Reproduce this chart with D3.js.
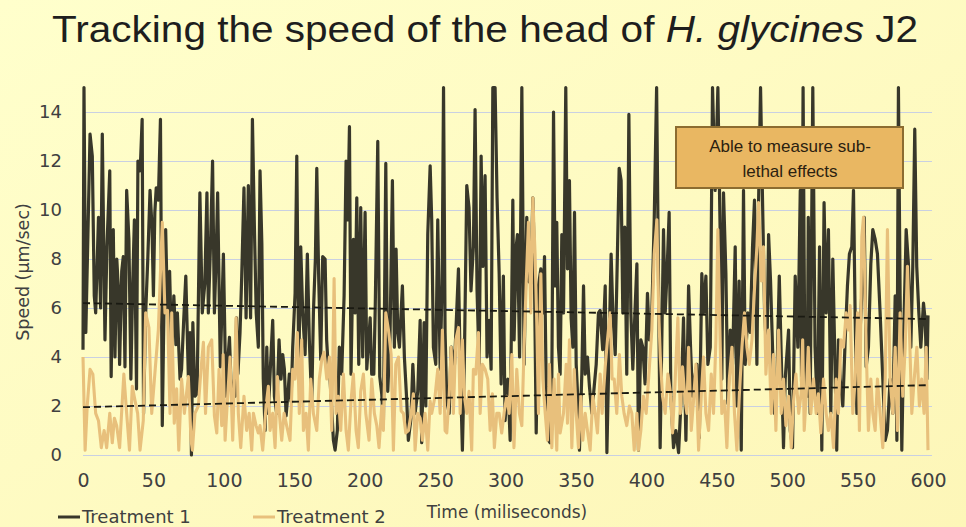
<!DOCTYPE html>
<html>
<head>
<meta charset="utf-8">
<script src="https://cdn.jsdelivr.net/npm/d3@7"></script>
<style>
    html, body { margin: 0; padding: 0; }
    body { width: 966px; height: 527px; overflow: hidden; }
</style>
</head>
<body>
<div id="chart"></div>
<script>
// Treatment 1: [time (ms), speed (um/sec)]
var treatment1 = [
    [0,4.3],[0.7,15],[2,5],[3.5,9],[5,13.1],[6.6,12.2],[8,6.5],[9,5.8],[11,9.7],[12.5,6],[13.7,13.1],[15.6,4.7],
    [17,8.5],[19,11.6],[20,3.2],[21.5,9.2],[22.7,4],[24,8],[25,6.9],[26,3.7],[27.5,7.5],[28.6,8.1],[29.8,3.6],
    [31,10.8],[32.6,8.8],[34,3.1],[35.3,7],[36.5,9.6],[38,2.7],[39,12],[40.6,11.6],[42,13.7],[43,1.7],[44.5,5.8],
    [46,8],[47.6,10.8],[49,9.3],[50,6.5],[51,9.9],[52,10.9],[53.5,10.4],[55,13.7],[56.3,1.2],[57.5,6],[58.7,9.2],
    [60,5.8],[61.5,7.5],[63,4],[64.5,6.5],[66,4.5],[67,5.8],[68.9,3.1],[70,3.5],[71.5,5.5],[73,7.3],[74.8,3.2],
    [76,5],[77,0],[78,5.4],[79.5,2.4],[81,2.5],[83,10.7],[84.7,5.8],[86.5,7],[88,10.7],[89,5.8],[90.5,8.5],[92,12],
    [93.3,5.8],[94.5,8],[95.6,10.7],[97.5,3.6],[99.7,8.2],
    [101.5,2.4],[103,4],[104,4.8],[105,3.1],[106.5,2.5],[108,2.4],[109,5.6],[110,3.3],[111.5,5],[112.7,7.3],
    [114.3,10.9],[115.8,5.6],[117.4,11],[119,5.6],[120.3,13.7],[121.7,9.3],[123,5.8],[124.5,4.4],[125.7,11.6],
    [127,8.6],[128,3.1],[129.3,1],[130.5,4.4],[131.6,1.7],[133,3.5],[134.7,5.5],[135.9,2.4],[137.5,1.7],[139.2,4.7],
    [140.6,3.1],[141.8,4.1],[143,3.5],[144.2,1.6],[145.4,2.4],[146.5,3.3],[147.7,2.2],[148.9,4.4],[150.6,6.6],
    [151.8,12.2],[153.2,3.5],[154.6,8.5],[156,5.8],[157.7,4.1],[159.3,8.2],[160.7,4.7],[162.4,2.1],[163.6,5.8],
    [165,8],[166,11.7],[167.4,7.1],[168.8,3.9],[170.2,8.1],[171.9,8],[173,4.7],[174.2,3.5],[175.4,3.1],[176.5,2],
    [177.8,0.6],[179,0.2],[180.6,1],[182,4.4],[183.7,3.3],[185.4,6.5],[186.8,12],[188,9.6],[189.2,13.4],[190.3,3.3],
    [192,8.8],[193.2,5.8],[194.4,10.5],[195.8,3.7],[197.2,10.1],[198.6,4],[200.3,9.9],
    [201.5,3.5],[203.9,5.6],[205,3.3],[206.5,3.3],[207.5,6],[209.3,12.8],[210.7,3.2],[212.1,2.5],[213.3,1.2],
    [215,11.9],[216.4,2.6],[218,4.8],[219.7,11.2],[221.1,4.4],[222.3,8.4],[223.5,5],[224.7,4.4],[226.8,6.9],
    [228.2,4],[229.9,2.2],[231,0.6],[232.9,1.5],[234.2,3.7],[235.8,1.7],[237.7,2.6],[239.4,5.5],[240.5,0.5],
    [242.2,5.4],[243.4,2],[244.8,9],[246.5,11.8],[247.6,9.6],[248.8,4.4],[250.5,3.7],[251.9,9.6],[253.6,3.5],
    [255,7],[256,15],[257.1,5],[258.3,2.2],[260,1.7],[261.4,4.4],[263.8,3.7],[266.6,7.6],[267.8,3.7],[269.4,0.2],
    [270.8,3.9],[272.5,11],[274.1,10.1],[275.5,6.7],[277.2,8.5],[278.4,14.1],[279.8,6.7],[281.3,3.6],[282.7,12.2],
    [283.9,7.7],[285.5,11.4],[286.9,4],[288.4,5.5],[289.8,3.5],[291,15],[292.6,15],[294,10.5],[295.5,7.4],
    [296.9,2.9],[298.5,7.3],[299.7,1.4],
    [301.6,3.1],[303.3,0.6],[305.2,10.4],[306.1,4.7],[307.6,8.5],[308.5,9],[310,4],[311.6,15],[313.2,3.7],
    [315.1,9.7],[316.3,7.1],[318,7],[319.4,10.5],[320.3,8.5],[321.8,0.9],[323.4,6.9],[325.1,7.6],[326.5,5.8],
    [327.7,8.1],[328.9,2.8],[330.5,0.6],[331.7,0.5],[332.9,3.1],[334.1,14],[335.3,6.9],[336.4,9.5],[337.6,4.4],
    [338.8,3.3],[340,9],[341.2,5.8],[342.8,15],[344,7.6],[345.4,11.2],[346.6,5.6],[347.8,4.4],[349,9.9],[350.2,3.7],
    [351.4,2.2],[352.5,0.2],[354.2,3.3],[355.4,6.9],[356.6,3.3],[358.2,4],[359.6,2.8],[361.3,1.7],[363,2.8],
    [364.4,3.7],[366,5.8],[367.2,5.9],[369,4.3],[370.8,6.9],[372,0.1],[373.4,4],[375,8.2],[376.2,5.8],[377.9,4.1],
    [379,6.9],[380.7,11.7],[382.1,11.2],[383.3,5.8],[384.7,9.3],[386.1,3.3],[387.6,13.9],[389,5.8],[390.4,3.5],
    [391.9,5.8],[393.3,7.8],[394.4,0.2],[396.1,4.7],[397.5,4.4],[399.1,2.9],
    [400.8,6.6],[402.2,4.7],[403.9,5.8],[405.6,9.6],[407.3,15],[408.5,8],[409.8,0.3],[412.2,9.2],[413.4,5.8],
    [414.6,7.3],[416.2,9.9],[417.4,2.4],[419.3,0.3],[421,1],[422.9,0.1],[424.8,2.4],[426.4,5.6],[428.1,0.6],
    [430,6.9],[431.4,4.4],[432.8,2.4],[434.2,3.1],[435.9,3.7],[437.6,0.7],[439.4,7.4],[440.6,5.8],[442.3,7.3],
    [443.7,3.7],[445.4,4.4],[447,15],[448.9,10.8],[450.8,15],[452.5,8.8],[453.6,3.1],[454.8,10.7],[456.5,7.4],
    [457.9,2.1],[459.6,5.1],[461.2,3.7],[463.1,8.5],[464.3,2],[465.9,7.1],[467.4,0.2],[469,10.8],[470.2,3.7],
    [472.1,5.8],[473.8,5],[475.4,8.5],[476.8,10.4],[478.5,3.7],[479.7,10.3],[481.1,15],[482.5,10.4],[484,5.8],
    [485.6,4],[486.8,9],[488.2,7.1],[489.6,4.4],[491,1.7],[492.7,3.1],[494.4,7.3],[495.8,4],[497.4,0.3],[498.6,3.1],
    [501,5.1],[502.2,1],[503.8,0.3],[505.7,7.3],[507.6,4.4],[509.3,10.8],[510.2,3],[511.3,15],[512.5,4],[514.2,2.4],
    [515,9.7],[516.3,1.7],[518.2,15],[519.8,4.4],[521.5,1.7],[523,8.5],[524.6,0.2],[526.2,10.3],[527.7,5.8],
    [529.3,9.2],[531,1.7],[532.4,8],[533.6,4.7],[535.2,0.2],[536.4,4.7],[537.6,3.1],[539.5,2],[541.2,4.7],
    [542.8,6.9],[544.2,8.2],[545.9,8.5],[547.1,10.8],[548.3,5.5],[549.5,1.7],[551.3,4.4],[553,6.6],[554.7,9.7],
    [556.1,3.6],[557.7,4.4],[559.4,7.8],[560.8,9.2],[562.5,8.8],[564.1,8.2],[566,5.8],[567.9,3.1],[569.6,0.6],
    [571.2,1],[573.1,3.1],[575,1.7],[576.7,6.5],[577.9,0.6],[579,15],[580.2,6.5],[581.4,0.2],[583.1,5.8],
    [584.5,9.2],[586.1,7.8],[587.8,4.4],[589.2,7.7],[590.6,13.3],[592,7.7],[593.5,5.8],[594.9,4.4],[596.8,6.2],
    [598,5.5],[599.2,3.1],[600,5.7]
];

// Treatment 2: [time (ms), speed (um/sec)]
var treatment2 = [
    [0,4],[1.5,0.2],[3,2],[5,3.5],[7,3.3],[9,1.7],[11,1.4],[13,0.3],[15,1],[16.8,0.3],[19,1.7],[20.8,0.5],
    [22.3,1.5],[23.9,1.2],[26,0.3],[29,3.3],[31,1.7],[33,0.2],[35,2.8],[37,2.2],[38.8,1.7],[40.5,0.2],[42.8,1.4],
    [44.5,5.8],[46.8,5.2],[48.8,1.7],[51,3.3],[53.5,5.1],[56.3,9.5],[58.2,5.8],[60,5.9],[61.8,1.7],[63,5.8],
    [64.8,1.3],[66.5,2.7],[68,0.2],[70,3.1],[72,1.7],[74.8,3.2],[76.7,0.6],[77.7,0.2],[79.5,1.7],[81.9,2],
    [83.8,3.5],[85.5,4.6],[87,1.7],[89,4.4],[91.4,4.7],[93.3,1.6],[95,0.9],[96.6,3.5],[98.5,1.2],[99.5,4.1],
    [100.9,0.6],[102,1.7],[104.4,4],[106.3,0.6],[108.7,5.6],[110.3,1.7],[112,0.3],[114.3,2.4],[116.2,1],[118,1.7],
    [119.8,0.2],[121,1.7],[122.9,1.2],[124.5,0.9],[125.7,1.2],[127.6,0.2],[130,2],[131.6,2.8],[132.8,1],[134.7,1.7],
    [136.4,0.3],[138,3.2],[139.4,1.7],[141.1,0.6],[142.8,1.7],[144.6,1.2],[147,0.6],[148.9,3.5],[150.6,3.1],
    [152.2,5],[153.6,1.7],[155.3,4.7],[156.5,1],[158.4,1.7],[160,0.2],[161.7,3.1],[163.6,1.7],[166,1],[167.8,3.1],
    [169.5,3.9],[171.2,4.2],[173.1,3.1],[175,4],[176.6,1],[178.3,7.2],[179.7,1.7],[181.3,2.4],[183,1],[184.9,3.3],
    [186.8,1],[188.4,0.2],[190.3,2.2],[192,3.3],[193.9,1],[195.5,0.3],[197.2,2.6],[199.1,3.3],[200.8,1.7],
    [203.1,0.6],[205,3.1],[206.9,1.7],[208.6,1.2],[210.2,0.3],[212.1,2],[213.3,1],[215,5.8],[216.9,5.1],[218.8,4.1],
    [220.4,0.2],[222.1,3.7],[224,4],[225.9,1.8],[227.5,1.7],[229.2,0.9],[231.1,1],[233,1.7],[234.6,2.5],[235.8,0.2],
    [237.7,1.7],[239.4,1.5],[241,0.6],[242.9,1.7],[244.8,0.2],[246.5,2.2],[247.6,1.7],[250,2.4],[251.9,3.5],
    [253.6,1.7],[255.2,5.1],[257.1,1],[258.3,0.9],[260,2.4],[261.4,4.4],[263,1.7],[264.7,4.7],[266.6,5.2],
    [267.8,1.7],[269.4,4.7],[270.8,2.4],[272.5,1.7],[274.1,2.6],[276,0.2],[277.2,3.5],[278.9,3.3],[280.8,5],
    [282,1.7],[283.6,3.7],[285.5,3.5],[287.4,3.1],[289.1,1],[290.7,2.5],[292.1,0.3],[293.8,1.7],[295.5,1.7],
    [297.3,0.9],[299.2,1.8],
    [300.9,2.4],[302.6,1.7],[304.5,4.1],[306,0.3],[308,3.5],[309.9,1.7],[311.6,1.2],[313.2,4.4],[314.7,7],
    [316.3,9.5],[318,5.8],[319.4,10.5],[321,8.2],[322.2,5.4],[323.4,1.7],[325.1,7.4],[326.5,3.1],[328.2,1.7],
    [329.8,0.6],[331.2,3.7],[332.9,0.3],[334.5,3.1],[336.4,0.2],[337.6,3.3],[338.8,0.9],[341.2,1.7],[343.1,3.7],
    [344,1.3],[345.4,4.7],[347.1,0.3],[348.8,3.5],[350.2,1.7],[351.8,0.3],[353.5,2.4],[354.9,0.6],[356.6,1.7],
    [358.2,1],[360.1,0.2],[362,2.4],[363.7,1.7],[365.3,0.9],[367.2,3.3],[368.6,1.7],[370.8,3.6],[372.4,4.7],
    [374.3,5.8],[375.7,3.1],[377.2,3.1],[379,1.7],[380.9,4.1],[382.6,2.4],[384.2,1.7],[386.1,1.2],[388,2],
    [389.7,1.7],[391.4,0.2],[393.3,1.7],[394.4,0.2],[396.1,1],[397.9,2.4],[399.9,1.7],
    [402.3,3.7],[403.9,5.1],[405.6,8.2],[407.5,9.6],[408.8,5.8],[409.9,4],[411.5,2.4],[413.4,1.7],[415.3,3.3],
    [417,2.6],[418.6,0.9],[420.5,3.1],[422.4,5.6],[424.1,1.7],[425.7,3.6],[427.6,2.2],[428.8,1.7],[430,4.4],
    [431.9,1],[433.5,2.2],[435.2,3.7],[437.1,0.2],[439,2.4],[440.6,4],[442.3,1.7],[444.2,1],[446.1,3.3],[447.7,1.7],
    [449.4,4.7],[450.8,9.2],[452.5,4.4],[453.6,1.7],[455.5,2.2],[457.2,0.3],[458.9,3.1],[460.8,4.4],[462.6,1.7],
    [464.3,0.2],[466,2.4],[467.9,4.4],[469.7,5.8],[471.4,4.4],[473.1,3.7],[475,4.7],[476.9,6.9],[478.5,8.5],
    [479.7,10.3],[481.6,7.1],[483.2,8.5],[484.9,3.3],[486.8,5.1],[488.7,1.7],[490.3,4.1],[492,1],[493.9,5.1],
    [495.8,1.7],[497.4,3.1],[499.1,1.2],
    [501,2.4],[502.9,0.3],[504.5,2.2],[506.2,3.3],[508.2,1.7],[509.9,2.5],[511,4.7],[512.1,1],[513.5,2.4],[515,4.4],
    [516.8,1.7],[518.7,3.1],[520.6,1.7],[522.2,2.5],[523.9,0.9],[525.8,3.1],[527.7,1.7],[529.3,1],[531,1.7],
    [532.9,0.3],[534.8,3.1],[536.4,1.7],[538.1,4.7],[540,4.4],[541.9,5.8],[543.5,5.1],[544.7,6.1],[546.6,1.7],
    [548.3,3.1],[550,5.8],[551.3,1],[553,8.9],[554.2,9.7],[556.1,4.4],[557.7,1],[559.4,3.1],[560.8,1.7],[562.5,1],
    [564.1,3.1],[566,1.7],[567.9,0.3],[569.6,3.1],[571.2,9.2],[573.1,3.1],[575,1.7],[576.7,4.4],[578.3,1],
    [580.2,5.8],[582.1,2.4],[583.8,4.4],[585.4,7.7],[586.8,5.1],[588.5,1.7],[590.2,3.1],[592.1,4.4],[593.9,2],
    [595.5,3.1],[597.2,1.7],[598.7,4.4],[600,0.2]
];

// linear trend lines: value at 0 ms and at 600 ms
var trendTimes = [0, 600];
var trend1 = [6.2, 5.55];
var trend2 = [1.95, 2.85];

var seriesNames = ["Treatment 1", "Treatment 2"];
var xTicks = [0, 50, 100, 150, 200, 250, 300, 350, 400, 450, 500, 550, 600];
var yTicks = [0, 2, 4, 6, 8, 10, 12, 14];

function init() {
    var w = 966;
    var h = 527;
    var left = 83, right = 928, top = 87.5, bottom = 455;
    var colT1 = "#38372a";
    var colT2 = "#e8c07c";

    var svg = d3.select("#chart")
                .append("svg")
                .attr("width", w)
                .attr("height", h);

    //background gradient
    var grad = svg.append("defs").append("linearGradient")
        .attr("id", "bg").attr("x1", 0).attr("y1", 0).attr("x2", 1).attr("y2", 1);
    grad.append("stop").attr("offset", "0%").attr("stop-color", "#ffffcc");
    grad.append("stop").attr("offset", "100%").attr("stop-color", "#fdf6b8");
    svg.append("rect").attr("width", w).attr("height", h).attr("fill", "url(#bg)");

    var xScale = d3.scaleLinear().domain([0, 600]).range([left, right]);
    var yScale = d3.scaleLinear().domain([0, 15]).range([bottom, top]);

    //gridlines
    var grid = svg.append("g")
        .attr("transform", "translate(" + left + ",0)")
        .call(d3.axisLeft(yScale).tickValues(yTicks).tickSize(-(right - left + 4)).tickFormat(""));
    grid.select(".domain").remove();
    grid.selectAll("line").attr("stroke", "#c9d0e2").attr("stroke-width", 1);

    //y tick labels
    var yAxis = svg.append("g")
        .attr("transform", "translate(62,0)")
        .call(d3.axisLeft(yScale).tickValues(yTicks).tickSize(0).tickPadding(0));
    yAxis.select(".domain").remove();
    yAxis.selectAll("text")
        .attr("font-family", "DejaVu Sans")
        .attr("font-size", 18)
        .attr("fill", "#404040");

    //x tick labels
    var xAxis = svg.append("g")
        .attr("transform", "translate(0," + bottom + ")")
        .call(d3.axisBottom(xScale).tickValues(xTicks).tickSize(0).tickPadding(19));
    xAxis.select(".domain").remove();
    xAxis.selectAll("text")
        .attr("font-family", "DejaVu Sans")
        .attr("font-size", 19)
        .attr("fill", "#404040");

    var line = d3.line()
        .x(function(d) { return xScale(d[0]); })
        .y(function(d) { return yScale(d[1]); });

    // treatment 1 first, treatment 2 drawn over it
    svg.append("path")
        .datum(treatment1)
        .attr("d", line)
        .attr("fill", "none")
        .attr("stroke", colT1)
        .attr("stroke-width", 3.2)
        .attr("stroke-linejoin", "round");

    svg.append("path")
        .datum(treatment2)
        .attr("d", line)
        .attr("fill", "none")
        .attr("stroke", colT2)
        .attr("stroke-width", 3.1)
        .attr("stroke-linejoin", "round");

    //trend lines
    [trend1, trend2].forEach(function(tr) {
        svg.append("path")
            .datum(trendTimes.map(function(t, i) { return [t, tr[i]]; }))
            .attr("d", line)
            .attr("fill", "none")
            .attr("stroke", "#1a1a12")
            .attr("stroke-width", 1.8)
            .attr("stroke-dasharray", "7,4");
    });

    //title, squeezed to the width it has in the picture
    var title = svg.append("text")
        .attr("x", 52)
        .attr("y", 42)
        .attr("font-family", "Liberation Sans")
        .attr("font-size", 37)
        .attr("textLength", 866)
        .attr("lengthAdjust", "spacingAndGlyphs")
        .attr("fill", "#1e1e1e");
    title.append("tspan").text("Tracking the speed of the head of ");
    title.append("tspan").attr("font-style", "italic").text("H. glycines");
    title.append("tspan").text(" J2");

    //y axis title
    svg.append("text")
        .attr("transform", "translate(29,272) rotate(-90)")
        .attr("text-anchor", "middle")
        .attr("font-family", "DejaVu Sans")
        .attr("font-size", 17.5)
        .attr("fill", "#404040")
        .text("Speed (\u00b5m/sec)");

    //x axis title
    svg.append("text")
        .attr("x", 507)
        .attr("y", 518)
        .attr("text-anchor", "middle")
        .attr("font-family", "DejaVu Sans")
        .attr("font-size", 17)
        .attr("fill", "#404040")
        .text("Time (miliseconds)");

    //legend
    var legX = [58, 253];
    [colT1, colT2].forEach(function(c, i) {
        svg.append("line")
            .attr("x1", legX[i]).attr("x2", legX[i] + 22)
            .attr("y1", 517).attr("y2", 517)
            .attr("stroke", c).attr("stroke-width", 3);
        svg.append("text")
            .attr("x", legX[i] + 24)
            .attr("y", 523)
            .attr("font-family", "DejaVu Sans")
            .attr("font-size", 18)
            .attr("fill", "#404040")
            .text(seriesNames[i]);
    });

    //annotation box
    svg.append("rect")
        .attr("x", 676).attr("y", 127)
        .attr("width", 227).attr("height", 61)
        .attr("fill", "#e9b762")
        .attr("stroke", "#8c6c30")
        .attr("stroke-width", 2);
    ["Able to measure sub-", "lethal effects"].forEach(function(s, i) {
        svg.append("text")
            .attr("x", 790)
            .attr("y", 152 + i * 25)
            .attr("text-anchor", "middle")
            .attr("font-family", "Liberation Sans")
            .attr("font-size", 17)
            .attr("fill", "#2b2110")
            .text(s);
    });
}
window.onload = init;
</script>
</body>
</html>
